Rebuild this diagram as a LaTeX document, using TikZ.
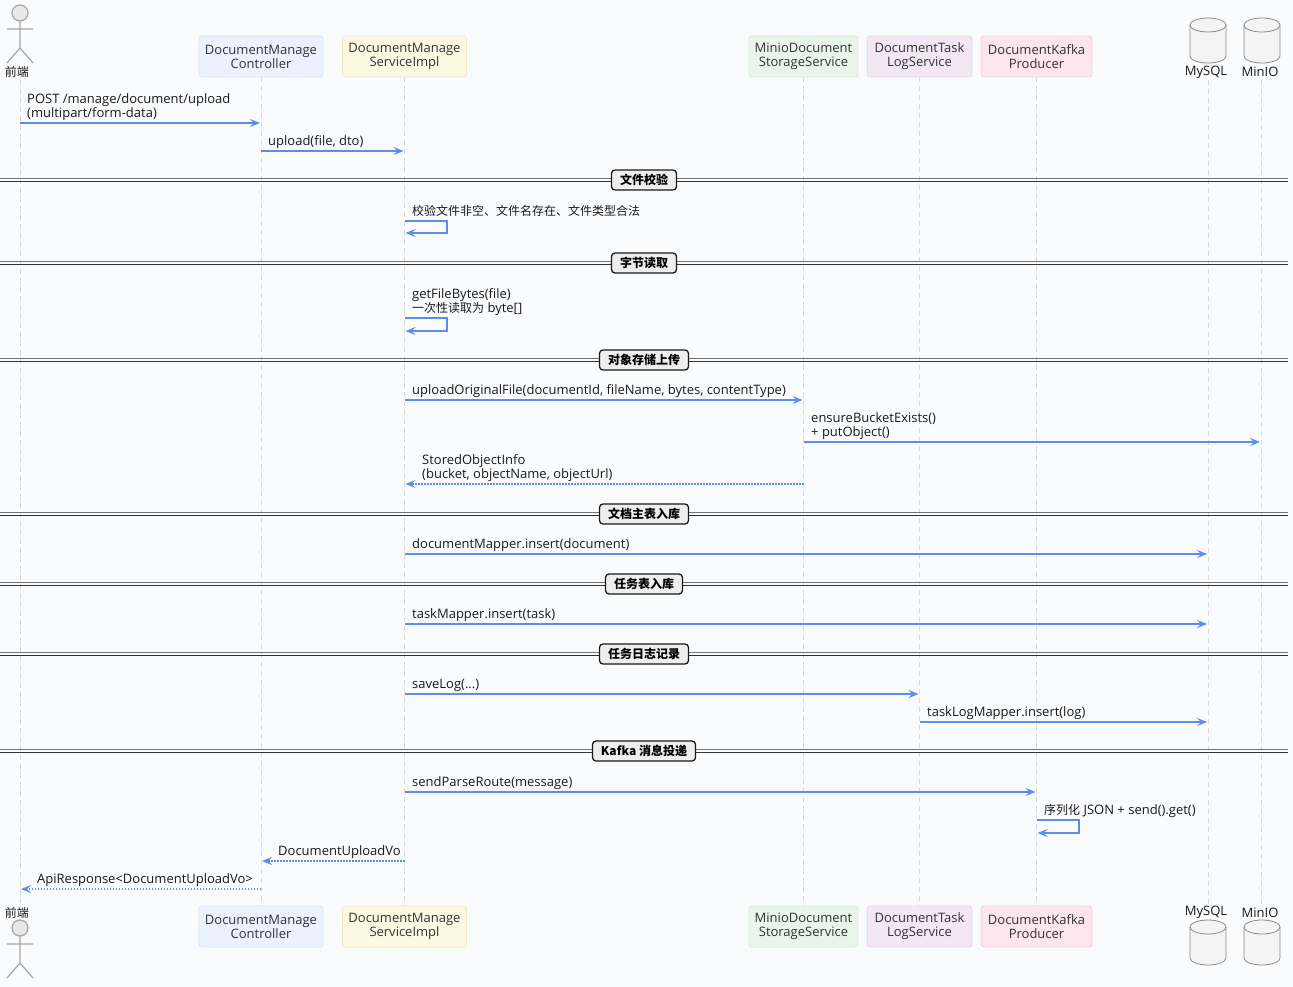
\documentclass[tikz,border=0pt]{standalone}
\usepackage{fontspec}
\setmainfont{Open Sans}
\newfontfamily\cjk{Noto Sans CJK SC}
\usetikzlibrary{arrows.meta}
\definecolor{bg}{HTML}{FAFBFD}
\definecolor{msgc}{HTML}{5B8DEE}
\definecolor{txt}{HTML}{1A1A1A}
\definecolor{ptxt}{HTML}{333333}
\definecolor{lifec}{HTML}{D9D9D9}
\definecolor{ctrlF}{HTML}{EBF2FD}\definecolor{ctrlD}{HTML}{D8E4F6}
\definecolor{svcF}{HTML}{FDF8E2}\definecolor{svcD}{HTML}{F1E9C8}
\definecolor{minF}{HTML}{E9F5EA}\definecolor{minD}{HTML}{D5EAD6}
\definecolor{logF}{HTML}{F3E7F6}\definecolor{logD}{HTML}{E5D5EA}
\definecolor{kafF}{HTML}{FCE5EC}\definecolor{kafD}{HTML}{F1D3DC}
\definecolor{cylF}{HTML}{F4F4F4}\definecolor{cylD}{HTML}{8A8A8A}
\definecolor{sepF}{HTML}{EEEEEE}
\begin{document}
\begin{tikzpicture}[x=1pt,y=-1pt,
  every node/.style={font=\fontsize{13}{14}\selectfont},
  part/.style 2 args={fill=#1, draw=#2, line width=0.8pt, rounded corners=3pt,
     align=center, text=ptxt, minimum height=41pt, inner sep=2pt},
  life/.style={draw=lifec, line width=1pt, dash pattern=on 5pt off 4pt},
  msg/.style={draw=msgc, line width=1.3pt, -{Stealth[length=10pt,width=8pt,inset=4pt]}, shorten >=1pt},
  ret/.style={msg, dash pattern=on 1.4pt off 1.6pt},
  lbl/.style={anchor=south west, inner sep=0pt, align=left, text depth=3pt, text=txt},
  cjkf/.style={font=\cjk\fontsize{12}{14}\selectfont},
  sepbox/.style={draw=black!90, line width=1.3pt, fill=sepF, rounded corners=3.5pt,
     inner xsep=8.5pt, inner ysep=0pt, minimum height=20pt, text=black,
     font=\cjk\bfseries\fontsize{12}{14}\selectfont},
  sepA/.style={draw=black!55, line width=1pt},
  sepB/.style={draw=black!80, line width=1pt},
  actor/.style={draw=black!35, line width=1.2pt},
  cyl/.style={draw=cylD, fill=cylF, line width=0.8pt}
]
\useasboundingbox (0,0) rectangle (1293,987);
\fill[bg] (0,0) rectangle (1293,987);

% ---------- participants (top) ----------
\node[part={ctrlF}{ctrlD}, minimum width=124pt] (ctrl) at (261,56.5) {DocumentManage\\Controller};
\node[part={svcF}{svcD}, minimum width=124pt] (svc) at (404.5,56.5) {DocumentManage\\ServiceImpl};
\node[part={minF}{minD}, minimum width=109pt] (minio) at (803.5,56.5) {MinioDocument\\StorageService};
\node[part={logF}{logD}, minimum width=105pt] (tlog) at (919.5,56.5) {DocumentTask\\LogService};
\node[part={kafF}{kafD}, minimum width=111pt] (kafka) at (1036.5,56.5) {DocumentKafka\\Producer};

% ---------- participants (bottom) ----------
\node[part={ctrlF}{ctrlD}, minimum width=124pt] (ctrlB) at (261,926.5) {DocumentManage\\Controller};
\node[part={svcF}{svcD}, minimum width=124pt] (svcB) at (404.5,926.5) {DocumentManage\\ServiceImpl};
\node[part={minF}{minD}, minimum width=109pt] (minioB) at (803.5,926.5) {MinioDocument\\StorageService};
\node[part={logF}{logD}, minimum width=105pt] (tlogB) at (919.5,926.5) {DocumentTask\\LogService};
\node[part={kafF}{kafD}, minimum width=111pt] (kafkaB) at (1036.5,926.5) {DocumentKafka\\Producer};

% ---------- actor ----------
\foreach \o in {0,915}{
  \draw[actor, fill=white!88!blue!12!gray!20] (20,13+\o) circle[radius=8];
  \draw[actor] (20,21+\o) -- (20,48+\o) (7,29+\o) -- (33,29+\o)
               (7,63+\o) -- (20,48+\o) -- (33,63+\o);
}
\node[inner sep=0pt, text=txt, cjkf] (feT) at (17,72) {前端};
\node[inner sep=0pt, text=txt, cjkf] (feB) at (17,912.5) {前端};
\coordinate (fe) at (20,80);
\coordinate (feEnd) at (20,903);

% ---------- databases ----------
\foreach \c/\t in {1208/18,1262/18,1208/920,1262/920}{
  \path[cyl] (\c-18,\t+7) -- (\c-18,\t+38)
     arc[start angle=180,end angle=0,x radius=18,y radius=7]
     -- (\c+18,\t+7) arc[start angle=0,end angle=-180,x radius=18,y radius=7] -- cycle;
  \draw[cyl, fill=none] (\c-18,\t+7) arc[start angle=180,end angle=0,x radius=18,y radius=7];
}
\node[inner sep=0pt, text=txt] (mysql) at (1206,72) {MySQL};
\node[inner sep=0pt, text=txt] (minioDB) at (1260,72) {MinIO};
\node[inner sep=0pt, text=txt] (mysqlB) at (1206,912.5) {MySQL};
\node[inner sep=0pt, text=txt] (minioDBB) at (1260,912.5) {MinIO};
\coordinate (my) at (1208,80);
\coordinate (myEnd) at (1208,904);
\coordinate (mo) at (1261,80);
\coordinate (moEnd) at (1261,904);

% ---------- lifelines ----------
\draw[life] (fe) -- (feEnd);
\draw[life] (ctrl.south) -- (ctrlB.north);
\draw[life] (svc.south) -- (svcB.north);
\draw[life] (minio.south) -- (minioB.north);
\draw[life] (tlog.south) -- (tlogB.north);
\draw[life] (kafka.south) -- (kafkaB.north);
\draw[life] (my) -- (myEnd);
\draw[life] (mo) -- (moEnd);

% ---------- separators ----------
\foreach \y/\t [count=\i] in {180/文件校验,263/字节读取,360/对象存储上传,514/文档主表入库,584/任务表入库,654/任务日志记录,751/Kafka 消息投递}{
  \draw[sepA] (0,\y-1.7) -- (1288,\y-1.7);
  \draw[sepB] (0,\y+1.7) -- (1288,\y+1.7);
  \node[sepbox] (sep\i) at (644,\y) {\t};
}

% ---------- messages ----------
\draw[msg] (fe |- 0,123) -- (ctrl |- 0,123);
\node[lbl] (l1) at (27,120.5) {POST /manage/document/upload\\(multipart/form-data)};

\draw[msg] (ctrl |- 0,151) -- (svc |- 0,151);
\node[lbl] (l2) at (268,148.5) {upload(file, dto)};

% self: validation
\draw[msg, shorten >=0pt] (svc |- 0,221) -- (447,221) -- (447,233) -- ([xshift=1pt]svc |- 0,233);
\node[lbl, cjkf] (l3) at (412,218.5) {校验文件非空、文件名存在、文件类型合法};

% self: read bytes
\draw[msg, shorten >=0pt] (svc |- 0,318) -- (447,318) -- (447,331) -- ([xshift=1pt]svc |- 0,331);
\node[lbl] (l4) at (412,315.5) {getFileBytes(file)\\{\cjk\fontsize{12}{14}\selectfont 一次性读取为} byte[]};

\draw[msg] (svc |- 0,400) -- (minio |- 0,400);
\node[lbl] (l5) at (412,397.5) {uploadOriginalFile(documentId, fileName, bytes, contentType)};

\draw[msg] (minio |- 0,442) -- (mo |- 0,442);
\node[lbl] (l6) at (811,439.5) {ensureBucketExists()\\+ putObject()};

\draw[ret] (minio |- 0,484) -- (svc |- 0,484);
\node[lbl] (l7) at (422,481.5) {StoredObjectInfo\\(bucket, objectName, objectUrl)};

\draw[msg] (svc |- 0,554) -- (my |- 0,554);
\node[lbl] (l8) at (412,551.5) {documentMapper.insert(document)};

\draw[msg] (svc |- 0,624) -- (my |- 0,624);
\node[lbl] (l9) at (412,621.5) {taskMapper.insert(task)};

\draw[msg] (svc |- 0,694) -- (tlog |- 0,694);
\node[lbl] (l10) at (412,691.5) {saveLog(...)};

\draw[msg] (tlog |- 0,722) -- (my |- 0,722);
\node[lbl] (l11) at (927,719.5) {taskLogMapper.insert(log)};

\draw[msg] (svc |- 0,792) -- (kafka |- 0,792);
\node[lbl] (l12) at (412,789.5) {sendParseRoute(message)};

% self: kafka
\draw[msg, shorten >=0pt] (kafka |- 0,820) -- (1079,820) -- (1079,833) -- ([xshift=1pt]kafka |- 0,833);
\node[lbl] (l13) at (1044,817.5) {{\cjk\fontsize{12}{14}\selectfont 序列化} JSON + send().get()};

\draw[ret] (svc |- 0,861) -- (ctrl |- 0,861);
\node[lbl] (l14) at (278,858.5) {DocumentUploadVo};

\draw[ret] (ctrl |- 0,889) -- (fe |- 0,889);
\node[lbl] (l15) at (37,886.5) {ApiResponse<DocumentUploadVo>};
\end{tikzpicture}
\end{document}
